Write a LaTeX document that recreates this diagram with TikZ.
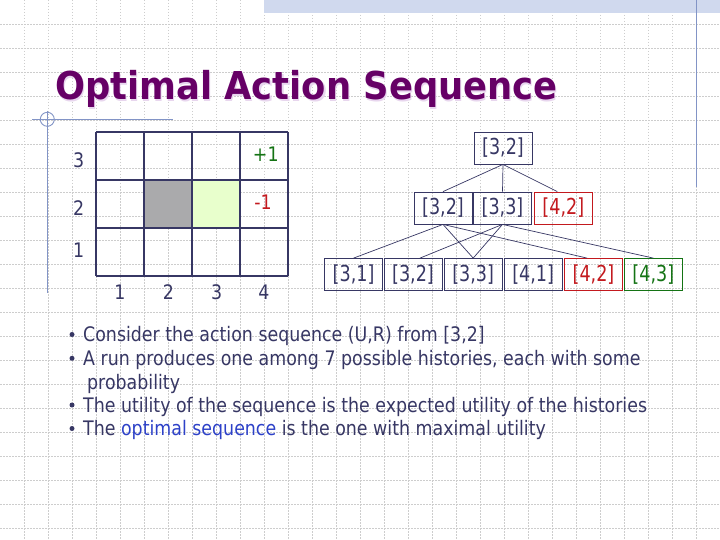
\documentclass[tikz,border=0pt]{standalone}
\usepackage{fontspec}
\setmainfont{DejaVu Sans}[FakeStretch=0.87]
\newfontfamily\titlefont{DejaVu Sans}[FakeStretch=0.92]
\newfontfamily\treefont{DejaVu Sans}[FakeStretch=0.8]
\definecolor{navy}{RGB}{55,55,100}
\definecolor{myred}{RGB}{195,25,30}
\definecolor{mygreen}{RGB}{20,115,20}
\definecolor{optblue}{RGB}{45,65,200}
\definecolor{titlepurple}{RGB}{102,0,102}
\definecolor{titleshadow}{RGB}{232,214,238}
\definecolor{bggridc}{RGB}{205,205,205}
\definecolor{bandblue}{RGB}{208,217,238}
\definecolor{decoblue}{RGB}{130,148,198}
\definecolor{cellgray}{RGB}{170,170,172}
\definecolor{cellgreen}{RGB}{232,255,204}
\tikzset{
  txt/.style={inner sep=0pt, font=\fontsize{20}{24}\selectfont, text=navy},
  box/.style={draw=navy, line width=0.8pt, inner sep=0pt, minimum height=32pt,
              minimum width=58pt, text=navy, font=\treefont\fontsize{22}{26}\selectfont},
  redbox/.style={box, draw=myred, text=myred},
  greenbox/.style={box, draw=mygreen, text=mygreen},
  edge/.style={draw=navy, line width=0.7pt},
  gw/.style={draw=navy, line width=1.1pt},
  bggrid/.style={draw=bggridc, line width=0.6pt, dash pattern=on 1.5pt off 1.5pt},
  deco/.style={draw=decoblue, line width=0.9pt},
  ttl/.style={inner sep=0pt, anchor=base west, font=\titlefont\bfseries\fontsize{38.4}{44}\selectfont},
}
\begin{document}
\begin{tikzpicture}[x=1pt,y=-1pt]
\useasboundingbox (0,0) rectangle (720,540);
\fill[white] (0,0) rectangle (720,540);
% background grid
\foreach \i in {1,...,29} \draw[bggrid] (24*\i,0) -- (24*\i,540);
\foreach \j in {1,...,22} \draw[bggrid] (0,24*\j) -- (720,24*\j);
% top band and decorations
\fill[bandblue] (264,0) rectangle (720,13);
\draw[deco] (696.5,0) -- (696.5,187);
\draw[deco] (32,119.3) -- (173,119.3);
\draw[deco] (47.3,111) -- (47.3,293);
\draw[deco] (47.3,119.3) circle (7);
% title
\node[ttl, text=titleshadow] (tshadow) at (56.2,101.2) {Optimal Action Sequence};
\node[ttl, text=titlepurple] (title) at (55,100) {Optimal Action Sequence};
% grid world
\fill[cellgray] (144,180) rectangle (192,228);
\fill[cellgreen] (192,180) rectangle (240,228);
\foreach \x in {96,144,192,240,288} \draw[gw] (\x,132) -- (\x,276);
\foreach \y in {132,180,228,276} \draw[gw] (96,\y) -- (288,\y);
\draw[gw, line width=1.8pt] (192,180) rectangle (240,228);
\node[txt, anchor=base] (r3) at (78.7,167.7) {3};
\node[txt, anchor=base] (r2) at (78.7,215.7) {2};
\node[txt, anchor=base] (r1) at (78.7,257.3) {1};
\node[txt, anchor=base] (c1) at (120,299) {1};
\node[txt, anchor=base] (c2) at (168.3,299) {2};
\node[txt, anchor=base] (c3) at (216.7,299) {3};
\node[txt, anchor=base] (c4) at (264,299) {4};
\node[txt, anchor=base, text=mygreen] (plus) at (265.8,161.7) {+1};
\node[txt, anchor=base, text=myred] (minus) at (263,210) {-1};
% tree
\node[box] (r) at (503,148) {[3,2]};
\node[box] (a2) at (443,208) {[3,2]};
\node[box] (b2) at (502.5,208) {[3,3]};
\node[redbox] (cc2) at (563.3,208) {[4,2]};
\node[box] (d3) at (353.6,274.5) {[3,1]};
\node[box] (e3) at (413,274.5) {[3,2]};
\node[box] (f3) at (473.2,274.5) {[3,3]};
\node[box] (g3) at (533.2,274.5) {[4,1]};
\node[redbox] (h3) at (593.5,274.5) {[4,2]};
\node[greenbox] (i3) at (653.3,274.5) {[4,3]};
\draw[edge] (r.south) -- (a2.north);
\draw[edge] (r.south) -- (b2.north);
\draw[edge] (r.south) -- ([xshift=-6pt]cc2.north);
\draw[edge] (a2.south) -- (d3.north);
\draw[edge] (a2.south) -- (f3.north);
\draw[edge] (a2.south) -- ([xshift=-6.5pt]h3.north);
\draw[edge] (b2.south) -- ([xshift=7pt]e3.north);
\draw[edge] (b2.south) -- (f3.north);
\draw[edge] (b2.south) -- (i3.north);
% bullets
\foreach \yy in {341.5,365.3,412,435.5}
  \fill[navy] (72,\yy-7) circle (2.5);
\node[txt, anchor=base west] (b1) at (83,341.5) {Consider the action sequence (U,R) from [3,2]};
\node[txt, anchor=base west] (b2t) at (83,365.3) {A run produces one among 7 possible histories, each with some};
\node[txt, anchor=base west] (b2c) at (87,389) {probability};
\node[txt, anchor=base west] (b3) at (83,412) {The utility of the sequence is the expected utility of the histories};
\node[txt, anchor=base west] (b4) at (83,435.5) {The \textcolor{optblue}{optimal sequence} is the one with maximal utility};
\end{tikzpicture}
\end{document}
